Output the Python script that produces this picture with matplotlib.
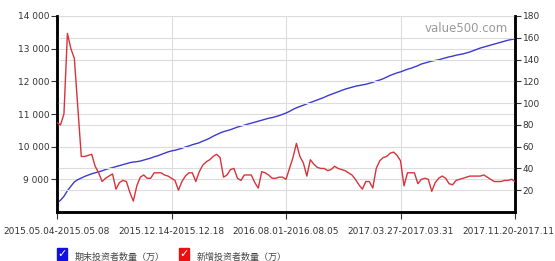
import matplotlib.pyplot as plt
from matplotlib.patches import Rectangle
from matplotlib.ticker import FuncFormatter

plt.rcParams['font.family'] = ['DejaVu Sans', 'Noto Sans CJK SC']

# 每周数据（万）
week_labels = ['2015.05.04-2015.05.08', '2015.12.14-2015.12.18', '2016.08.01-2016.08.05',
               '2017.03.27-2017.03.31', '2017.11.20-2017.11.24']
label_idx = [0, 33, 66, 99, 132]

total_investors = [
    8275, 8360, 8480, 8650, 8790, 8920, 8990, 9040, 9090, 9130,
    9170, 9200, 9230, 9260, 9300, 9330, 9360, 9390, 9420, 9450,
    9480, 9510, 9530, 9540, 9560, 9590, 9620, 9650, 9690, 9720,
    9760, 9800, 9840, 9870, 9890, 9920, 9950, 9990, 10020, 10060,
    10090, 10120, 10170, 10210, 10260, 10320, 10370, 10420, 10460, 10490,
    10520, 10560, 10600, 10630, 10660, 10690, 10720, 10750, 10780, 10810,
    10840, 10870, 10890, 10920, 10950, 10990, 11030, 11080, 11140, 11190,
    11230, 11270, 11310, 11350, 11390, 11430, 11470, 11510, 11560, 11600,
    11640, 11680, 11720, 11760, 11790, 11820, 11850, 11870, 11890, 11910,
    11940, 11970, 12010, 12040, 12080, 12130, 12180, 12220, 12260, 12290,
    12330, 12370, 12400, 12440, 12480, 12530, 12560, 12590, 12620, 12640,
    12660, 12690, 12720, 12750, 12770, 12800, 12820, 12840, 12870, 12900,
    12940, 12980, 13020, 13050, 13080, 13110, 13140, 13170, 13200, 13230,
    13260, 13280, 13300,
]

new_investors = [
    82, 80, 90, 164, 150, 141, 96, 51, 51, 52,
    53, 42, 36, 28, 31, 33, 35, 21, 27, 29,
    28, 18, 10, 24, 32, 34, 31, 31, 36, 36,
    36, 34, 33, 31, 29, 20, 28, 33, 36, 36,
    28, 37, 43, 46, 48, 51, 53, 50, 32, 34,
    39, 40, 31, 29, 34, 34, 34, 27, 22, 37,
    36, 34, 31, 31, 32, 32, 30, 40, 50, 63,
    51, 45, 33, 48, 44, 41, 40, 40, 38, 39,
    42, 40, 39, 38, 36, 34, 30, 25, 21, 28,
    28, 22, 40, 47, 50, 51, 54, 55, 52, 47,
    24, 36, 36, 36, 26, 30, 31, 30, 19, 27,
    31, 33, 31, 26, 25, 29, 30, 31, 32, 33,
    33, 33, 33, 34, 32, 30, 28, 28, 28, 29,
    29, 30, 28,
]

blue = '#3b3bd0'
red = '#d8333b'
grid_c = '#dcdcdc'

fig = plt.figure(figsize=(5.55, 2.61), dpi=100)
ax = fig.add_axes([0.1027, 0.1877, 0.8253, 0.751])
ax2 = ax.twinx()

x = list(range(len(total_investors)))
ax.plot(x, total_investors, color=blue, lw=1.0, zorder=3)
ax2.plot(x, new_investors, color=red, lw=1.0, zorder=3)

ax.set_xlim(0, 132)
ax.set_ylim(8000, 14000)
ax2.set_ylim(0, 180)
ax.set_yticks([9000, 10000, 11000, 12000, 13000, 14000])
ax.yaxis.set_major_formatter(FuncFormatter(lambda v, p: f'{int(v):,}'.replace(',', ' ')))
ax2.set_yticks([20, 40, 60, 80, 100, 120, 140, 160, 180])
ax.set_xticks(label_idx)
ax.set_xticklabels(week_labels)

ax.grid(True, color=grid_c, lw=0.8, zorder=0)
ax2.grid(True, axis='y', color=grid_c, lw=0.8, zorder=0)
ax.set_axisbelow(True)

for a in (ax, ax2):
    a.spines['top'].set_visible(False)
    for s in ('left', 'right', 'bottom'):
        a.spines[s].set_linewidth(1.8)
        a.spines[s].set_color('black')
    a.tick_params(labelsize=6.5, colors='#333333', length=4, width=0.8, pad=1.5)
ax.tick_params(axis='x', length=5, pad=6)

ax.text(0.985, 0.935, 'value500.com', transform=ax.transAxes, ha='right', va='center',
        fontsize=8.5, color='#9a9a9a')

# 图例（底部，被截断）
legend_items = [('期末投资者数量（万）', '#1010e0', 57), ('新增投资者数量（万）', '#e81010', 179)]
for name, col, px in legend_items:
    fig.patches.append(Rectangle((px / 555, 1 - 260 / 261), 10 / 555, 12 / 261,
                                 transform=fig.transFigure, color=col, zorder=5))
    fig.text((px + 5) / 555, 1 - 254 / 261, '✓', color='white', fontsize=8,
             ha='center', va='center', fontweight='bold', zorder=6)
    fig.text((px + 18) / 555, 1 - 257 / 261, name, fontsize=6.5, color='#444444',
             va='center', family=['Noto Sans CJK SC', 'DejaVu Sans'])

fig.savefig('out.png', dpi=100)
